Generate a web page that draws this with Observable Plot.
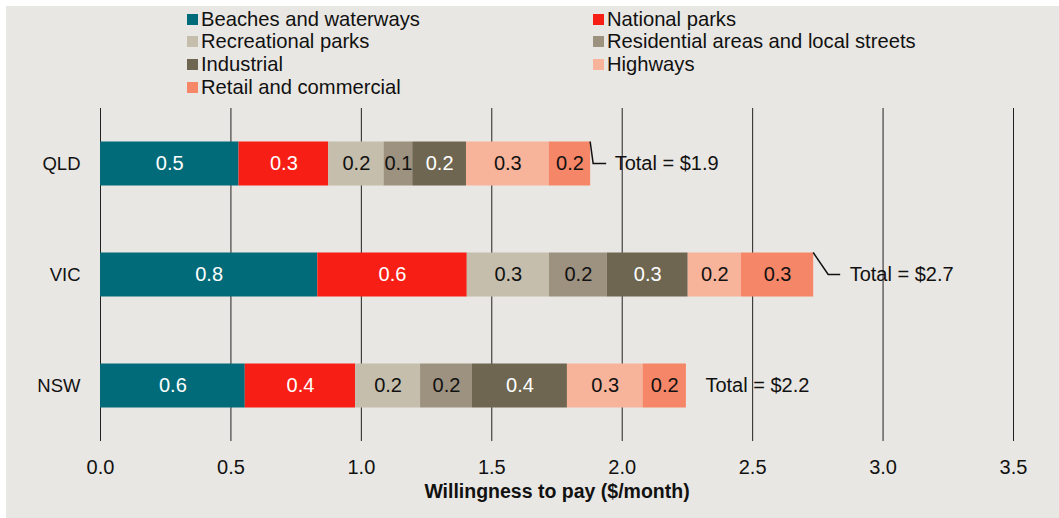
<!DOCTYPE html>
<html>
<head>
<meta charset="utf-8">
<script src="https://cdn.jsdelivr.net/npm/d3@7"></script>
<script src="https://cdn.jsdelivr.net/npm/@observablehq/plot@0.6"></script>
<style>
  html, body { margin: 0; padding: 0; background: #ffffff; }
  #wrap { position: absolute; left: 6px; top: 6px; width: 1053px; height: 512px; background: #e9e7e3; font-family: "Liberation Sans", Arial, sans-serif; }
  #legend { position: absolute; left: 181px; top: 2px; display: grid; grid-template-columns: 406px auto; grid-auto-rows: 22.6px; }
  .item { display: flex; align-items: center; font-size: 20.2px; color: #111; white-space: nowrap; }
  .sw { width: 11px; height: 11px; margin-right: 3px; flex: none; }
  #chart { position: absolute; left: 0; top: 96px; }
</style>
</head>
<body>
<div id="wrap">
  <div id="legend"></div>
  <div id="chart"></div>
</div>
<script>
const states = ["QLD", "VIC", "NSW"];
const categories = [
  "Beaches and waterways",
  "National parks",
  "Recreational parks",
  "Residential areas and local streets",
  "Industrial",
  "Highways",
  "Retail and commercial"
];
const colors = ["#026b79", "#f71f15", "#c5beac", "#9d9180", "#6e6650", "#f8b49a", "#f58667"];
const qldValues = [0.531, 0.344, 0.212, 0.110, 0.206, 0.317, 0.159];
const vicValues = [0.833, 0.573, 0.315, 0.222, 0.310, 0.204, 0.277];
const nswValues = [0.555, 0.423, 0.249, 0.199, 0.364, 0.290, 0.166];
const xTicks = [0, 0.5, 1.0, 1.5, 2.0, 2.5, 3.0, 3.5];
const whiteTextCategories = ["Beaches and waterways", "National parks", "Industrial"];
const axisTitle = "Willingness to pay ($/month)";
// annotation placement (pixel offsets from bar end) and connector style
const totalDx = [24, 36, 19];
const connector = [[3, 16], [15, 27], null];

const seriesByState = [qldValues, vicValues, nswValues];
const data = [];
states.forEach((s, i) => {
  let acc = 0;
  categories.forEach((c, j) => {
    const v = seriesByState[i][j];
    data.push({state: s, category: c, value: v, start: acc, end: acc + v});
    acc += v;
  });
});
const totals = states.map((s, i) => ({state: s, total: d3.sum(seriesByState[i]), dx: totalDx[i], conn: connector[i]}));

// legend
const legend = document.getElementById("legend");
categories.forEach((c, j) => {
  const it = document.createElement("div");
  it.className = "item";
  it.innerHTML = `<span class="sw" style="background:${colors[j]}"></span><span>${c}</span>`;
  legend.appendChild(it);
});

const inset = 33.5;
const font = "Liberation Sans, Arial, sans-serif";

const chart = Plot.plot({
  width: 1053,
  height: 416,
  marginLeft: 94,
  marginRight: 46,
  marginTop: 6,
  marginBottom: 77,
  style: {background: "transparent", fontFamily: font, fontSize: "20px", color: "#111"},
  x: {domain: [0, 3.5]},
  y: {domain: states, padding: 0},
  color: {domain: categories, range: colors},
  marks: [
    Plot.ruleX(xTicks, {stroke: "#222", strokeWidth: 1}),
    Plot.barX(data, {x1: "start", x2: "end", y: "state", fill: "category", insetTop: inset, insetBottom: inset}),
    Plot.text(data.filter(d => whiteTextCategories.includes(d.category)),
      {x: d => (d.start + d.end) / 2, y: "state", text: d => d.value.toFixed(1), fill: "white", fontSize: 20}),
    Plot.text(data.filter(d => !whiteTextCategories.includes(d.category)),
      {x: d => (d.start + d.end) / 2, y: "state", text: d => d.value.toFixed(1), fill: "#111", fontSize: 20}),
    ...totals.map(t => Plot.text([t], {x: "total", y: "state", text: d => `Total = $${d.total.toFixed(1)}`, textAnchor: "start", dx: t.dx, fill: "#111", fontSize: 20})),
    (index, scales) => {
      const g = d3.create("svg:g").attr("fill", "none").attr("stroke", "#111").attr("stroke-width", 1.5);
      totals.forEach(t => {
        if (!t.conn) return;
        const x0 = scales.x(t.total);
        const yTop = scales.y(t.state) + inset;
        const yMid = scales.y(t.state) + scales.y.bandwidth() / 2;
        g.append("path").attr("d", `M${x0},${yTop}L${x0 + t.conn[0]},${yMid}L${x0 + t.conn[1]},${yMid}`);
      });
      return g.node();
    },
    Plot.axisX({ticks: xTicks, tickFormat: d3.format(".1f"), tickSize: 0, tickPadding: 18, label: null, fontSize: 20}),
    Plot.axisY({tickSize: 0, tickPadding: 20, label: null, fontSize: 18.5}),
    Plot.text([axisTitle], {text: d => d, frameAnchor: "bottom", dy: 56, fontWeight: "bold", fontSize: 19.5, fill: "#111"})
  ]
});
document.getElementById("chart").appendChild(chart);
</script>
</body>
</html>
